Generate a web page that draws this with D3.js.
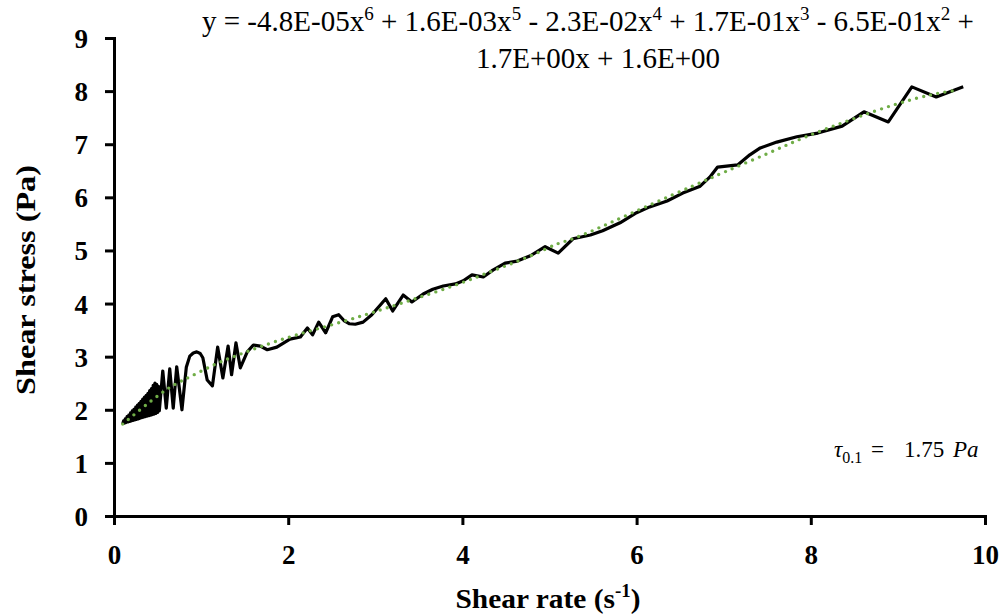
<!DOCTYPE html>
<html>
<head>
<meta charset="utf-8">
<script src="https://cdn.jsdelivr.net/npm/d3@7"></script>
<style>
  html, body { margin: 0; padding: 0; background: #fff; }
  svg { display: block; }
</style>
</head>
<body>
<svg id="chart" width="1005" height="615"></svg>
<script>
// ---- data ----
const shearRate = [0.10,0.11,0.12,0.13,0.14,0.15,0.16,0.17,0.18,0.19,0.20,0.21,0.22,0.23,0.24,0.25,0.26,0.27,0.28,0.29,
  0.30,0.31,0.32,0.33,0.34,0.35,0.36,0.37,0.38,0.39,0.40,0.41,0.42,0.43,0.44,0.45,0.46,0.47,0.48,0.49,0.50,0.51,0.52,
  0.56,0.60,0.64,0.68,0.72,0.78,0.83,0.87,0.91,0.95,0.99,1.02,1.07,1.13,1.19,1.25,1.31,1.35,1.40,1.45,1.53,1.60,1.68,1.76,1.87,
  2.02,2.14,2.22,2.28,2.35,2.43,2.51,2.58,2.64,2.70,2.77,2.86,2.96,3.12,3.20,3.32,3.42,3.55,3.66,3.78,3.92,4.01,4.11,4.24,
  4.35,4.49,4.63,4.78,4.95,5.10,5.27,5.47,5.61,5.81,6.00,6.15,6.35,6.53,6.73,6.84,6.93,7.16,7.30,7.42,7.61,7.84,8.08,
  8.36,8.61,8.89,9.16,9.44,9.75];
const shearStress = [1.73,1.79,1.75,1.83,1.76,1.87,1.77,1.90,1.78,1.94,1.79,1.98,1.80,2.01,1.81,2.05,1.82,2.09,1.83,2.12,
  1.84,2.16,1.85,2.20,1.86,2.24,1.87,2.27,1.88,2.31,1.89,2.36,1.90,2.40,1.91,2.46,1.92,2.50,1.93,2.48,1.95,2.44,1.98,
  2.73,2.03,2.77,2.03,2.81,2.00,2.80,3.01,3.07,3.09,3.06,2.98,2.56,2.45,3.18,2.60,3.20,2.66,3.26,2.79,3.09,3.22,3.20,3.13,3.18,
  3.33,3.37,3.54,3.41,3.65,3.45,3.75,3.79,3.68,3.62,3.61,3.65,3.79,4.09,3.86,4.16,4.03,4.18,4.27,4.33,4.37,4.43,4.54,4.50,
  4.63,4.76,4.80,4.90,5.07,4.95,5.22,5.29,5.37,5.52,5.71,5.82,5.93,6.08,6.21,6.38,6.57,6.61,6.80,6.93,7.04,7.14,7.21,
  7.34,7.61,7.42,8.08,7.89,8.08];
// polynomial trendline as drawn in the picture
const trendX = [0.10,0.32,0.53,0.68,0.85,1.18,1.42,1.70,2.04,2.57,2.85,3.10,3.46,3.97,4.40,4.83,5.09,5.26,5.67,6.18,6.67,7.01,7.53,7.93,8.45,8.97,9.40,9.69];
const trendY = [1.73,2.03,2.30,2.47,2.60,2.88,3.03,3.20,3.39,3.63,3.77,3.90,4.09,4.37,4.65,4.92,5.14,5.20,5.50,5.88,6.23,6.48,6.84,7.14,7.46,7.76,7.95,8.02];
const xTicks = [0,2,4,6,8,10];
const yTicks = [0,1,2,3,4,5,6,7,8,9];

const svg = d3.select("#chart");
const x = d3.scaleLinear().domain([0,10]).range([114,985]);
const y = d3.scaleLinear().domain([0,9]).range([516,38]);

const serif = "'Liberation Serif','Times New Roman',serif";

// axes
const xAxis = d3.axisBottom(x).tickValues(xTicks).tickSize(9).tickSizeOuter(9).tickFormat(d3.format("d"));
const yAxis = d3.axisLeft(y).tickValues(yTicks).tickSize(9).tickSizeOuter(9).tickFormat(d3.format("d"));

const gx = svg.append("g").attr("transform","translate(0,516)").call(xAxis);
const gy = svg.append("g").attr("transform","translate(114,0)").call(yAxis);
[gx,gy].forEach(g => {
  g.selectAll("path,line").attr("stroke","#000").attr("stroke-width",3);
  g.selectAll("text").attr("fill","#000").attr("font-family",serif)
    .attr("font-weight","bold").attr("font-size",27);
});
gx.selectAll("text").attr("y",29).attr("dy","0.71em");
gy.selectAll("text").attr("x",-26).attr("dy","0.35em");

// data line
const line = d3.line().x((d,i)=>x(shearRate[i])).y((d,i)=>y(shearStress[i]));
svg.append("path").datum(shearRate).attr("d",line).attr("fill","none")
  .attr("stroke","#000").attr("stroke-width",3.2).attr("stroke-linejoin","round");

// trendline
const tline = d3.line().x((d,i)=>x(trendX[i])).y((d,i)=>y(trendY[i])).curve(d3.curveBasis);
svg.append("path").datum(trendX).attr("d",tline).attr("fill","none")
  .attr("stroke","#70AD47").attr("stroke-width",3.4).attr("stroke-linecap","round")
  .attr("stroke-dasharray","0 7.3");

// axis titles
svg.append("text").attr("x",548).attr("y",608).attr("text-anchor","middle")
  .attr("font-family",serif).attr("font-weight","bold").attr("font-size",28)
  .attr("textLength",185).attr("lengthAdjust","spacingAndGlyphs")
  .call(t => {
    t.append("tspan").text("Shear rate (s");
    t.append("tspan").attr("dy",-11).attr("font-size",18).text("-1");
    t.append("tspan").attr("dy",11).text(")");
  });
svg.append("text").attr("transform","translate(35,280) rotate(-90)").attr("text-anchor","middle")
  .attr("font-family",serif).attr("font-weight","bold").attr("font-size",28)
  .attr("textLength",230).attr("lengthAdjust","spacingAndGlyphs")
  .text("Shear stress (Pa)");

// equation
const eqParts = ["y = -4.8E-05x","6"," + 1.6E-03x","5"," - 2.3E-02x","4"," + 1.7E-01x","3"," - 6.5E-01x","2"," +"];
const t1 = svg.append("text").attr("x",202).attr("y",31).attr("font-family",serif).attr("font-size",29);
eqParts.forEach((p,i) => {
  const sup = i % 2 === 1;
  t1.append("tspan").attr("dy", sup ? -11 : (i>0 ? 11 : 0)).attr("font-size", sup ? 19 : 29).text(p);
});
svg.append("text").attr("x",476).attr("y",68).attr("font-family",serif).attr("font-size",29)
  .text("1.7E+00x + 1.6E+00");

// tau annotation
const ta = svg.append("text").attr("y",457).attr("font-family",serif).attr("font-size",23);
ta.append("tspan").attr("x",834).attr("font-style","italic").text("τ");
ta.append("tspan").attr("dy",6).attr("font-size",16).text("0.1");
ta.append("tspan").attr("x",871).attr("dy",-6).text("=");
ta.append("tspan").attr("x",904).text("1.75");
ta.append("tspan").attr("x",953).attr("font-style","italic").text("Pa");
</script>
</body>
</html>
